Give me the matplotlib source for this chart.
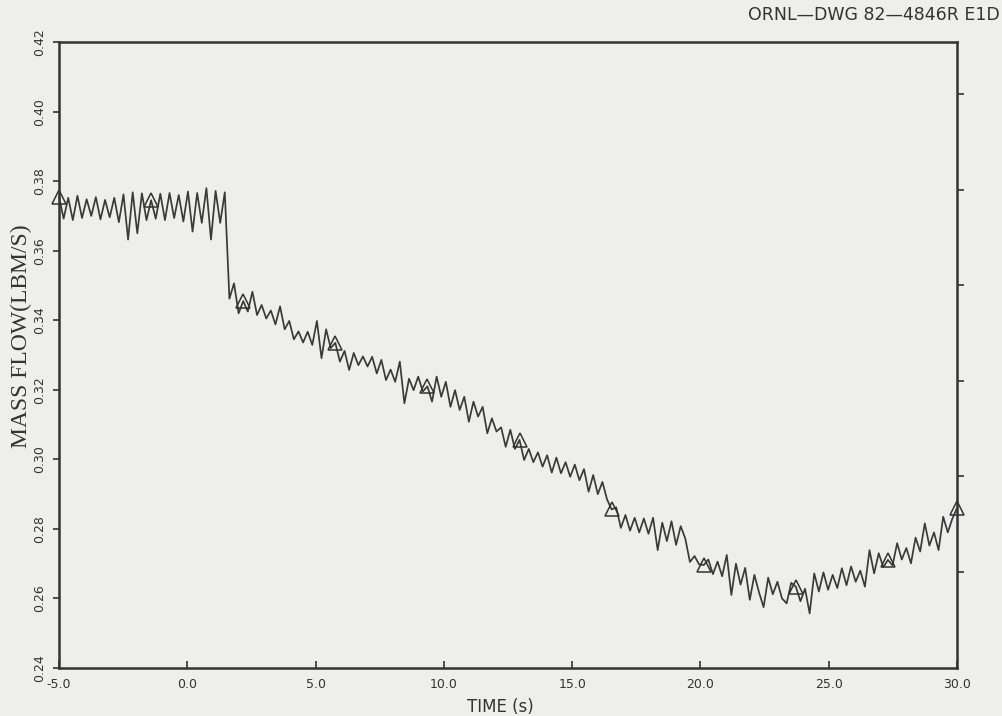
import numpy as np
import matplotlib
matplotlib.use("Agg")
import matplotlib.pyplot as plt

# ---- data -------------------------------------------------------------
T_START, T_END = -5.0, 30.0

# mass flow before the step change (lbm/s)
flow_steady = [
    0.3755, 0.3692, 0.3752, 0.3688, 0.3758, 0.3694, 0.3748, 0.3700, 0.3754, 0.3690,
    0.3746, 0.3696, 0.3752, 0.3682, 0.3762, 0.3632, 0.3768, 0.3650, 0.3765, 0.3688,
    0.3745, 0.3692, 0.3764, 0.3688, 0.3766, 0.3694, 0.3760, 0.3684, 0.3770, 0.3655,
    0.3766, 0.3680, 0.3780, 0.3632, 0.3772, 0.3680, 0.3768,
]

# mass flow during the decline after the step
flow_decline = [
    0.3462, 0.3506, 0.3420, 0.3455, 0.3425, 0.3482, 0.3415, 0.3444, 0.3405, 0.3428,
    0.3388, 0.3440, 0.3374, 0.3398, 0.3345, 0.3368, 0.3336, 0.3367, 0.3329, 0.3398,
    0.3291, 0.3374, 0.3320, 0.3335, 0.3281, 0.3312, 0.3257, 0.3306, 0.3271, 0.3296,
    0.3267, 0.3295, 0.3247, 0.3286, 0.3228, 0.3258, 0.3223, 0.3281, 0.3161, 0.3232,
    0.3199, 0.3238, 0.3195, 0.3210, 0.3166, 0.3238, 0.3180, 0.3223, 0.3151, 0.3199,
    0.3142, 0.3180, 0.3108, 0.3166, 0.3123, 0.3151, 0.3075, 0.3118, 0.3080, 0.3092,
    0.3036, 0.3085, 0.3030, 0.3056, 0.2998, 0.3030, 0.2992, 0.3020, 0.2979, 0.3012,
    0.2962, 0.3005, 0.2960, 0.2992, 0.2950, 0.2985, 0.2940, 0.2972, 0.2907, 0.2955,
    0.2900, 0.2935, 0.2885, 0.2856, 0.2862, 0.2803, 0.2840, 0.2795, 0.2832, 0.2790,
    0.2830, 0.2786, 0.2832, 0.2739, 0.2818, 0.2765, 0.2822, 0.2754, 0.2808, 0.2772,
]

# mass flow through the minimum and recovery
flow_recovery = [
    0.2705, 0.2722, 0.2698, 0.2696, 0.2712, 0.2670, 0.2706, 0.2664, 0.2725, 0.2610,
    0.2700, 0.2640, 0.2688, 0.2596, 0.2668, 0.2618, 0.2575, 0.2660, 0.2612, 0.2648,
    0.2600, 0.2586, 0.2645, 0.2634, 0.2592, 0.2628, 0.2557, 0.2672, 0.2620, 0.2675,
    0.2625, 0.2668, 0.2630, 0.2687, 0.2638, 0.2692, 0.2648, 0.2680, 0.2634, 0.2739,
    0.2672, 0.2730, 0.2690, 0.2711, 0.2695, 0.2759, 0.2712, 0.2745, 0.2701, 0.2775,
    0.2735, 0.2816, 0.2752, 0.2790, 0.2739, 0.2835, 0.2790, 0.2830, 0.2860,
]

X_TICKS = [-5.0, 0.0, 5.0, 10.0, 15.0, 20.0, 25.0, 30.0]
Y_TICKS = [0.24, 0.26, 0.28, 0.30, 0.32, 0.34, 0.36, 0.38, 0.40, 0.42]
RIGHT_TICKS = [0.4050, 0.3775, 0.3500, 0.3226, 0.2951, 0.2676]

# ---- figure -----------------------------------------------------------
BG = "#eeeeec"
INK = "#333333"

flow = np.array(flow_steady + flow_decline + flow_recovery)
time = np.linspace(T_START, T_END, len(flow))
mark_idx = list(range(0, len(flow), 20)) + [len(flow) - 1]

fig = plt.figure(figsize=(10.02, 7.16), dpi=100, facecolor=BG)
ax = fig.add_axes([0.0589, 0.067, 0.8962, 0.8743])
ax.set_facecolor(BG)

ax.plot(time, flow, color="#3a3a3a", lw=1.25, marker="^", ms=10, mfc="none",
        mec=INK, mew=1.1, markevery=mark_idx, clip_on=False,
        solid_joinstyle="round", solid_capstyle="round")

ax.set_xlim(T_START, T_END)
ax.set_ylim(0.24, 0.42)
ax.set_xticks(X_TICKS)
ax.set_xticklabels([f"{v:.1f}" for v in X_TICKS])
ax.set_yticks(Y_TICKS)
ax.set_yticklabels([f"{v:.2f}" for v in Y_TICKS])

ax.tick_params(axis="x", direction="in", length=5, width=1.2, pad=7,
               labelsize=9, colors=INK)
ax.tick_params(axis="y", direction="out", length=4, width=1.2, pad=5,
               labelsize=9, colors=INK, labelrotation=90)
for lab in ax.get_yticklabels():
    lab.set_va("center")

for side, sp in ax.spines.items():
    sp.set_linewidth(1.8)
    sp.set_color(INK)

# unlabelled tick marks on the right-hand frame
ax2 = ax.twinx()
ax2.set_ylim(ax.get_ylim())
ax2.set_yticks(RIGHT_TICKS)
ax2.tick_params(axis="y", direction="out", length=5, width=1.2,
                labelright=False, colors=INK)
for sp in ax2.spines.values():
    sp.set_visible(False)

fig.text(0.499, 0.0126, "TIME (s)", ha="center", va="center",
         fontsize=12, color=INK, family="DejaVu Sans")
fig.text(0.021, 0.531, "MASS FLOW(LBM/S)", ha="center", va="center",
         rotation=90, fontsize=17, color=INK, family="Liberation Serif")
fig.text(0.998, 0.979, "ORNL\u2014DWG 82\u20144846R E1D", ha="right",
         va="center", fontsize=12.5, color=INK, family="DejaVu Sans")

fig.savefig("out.png", dpi=100, facecolor=BG)
